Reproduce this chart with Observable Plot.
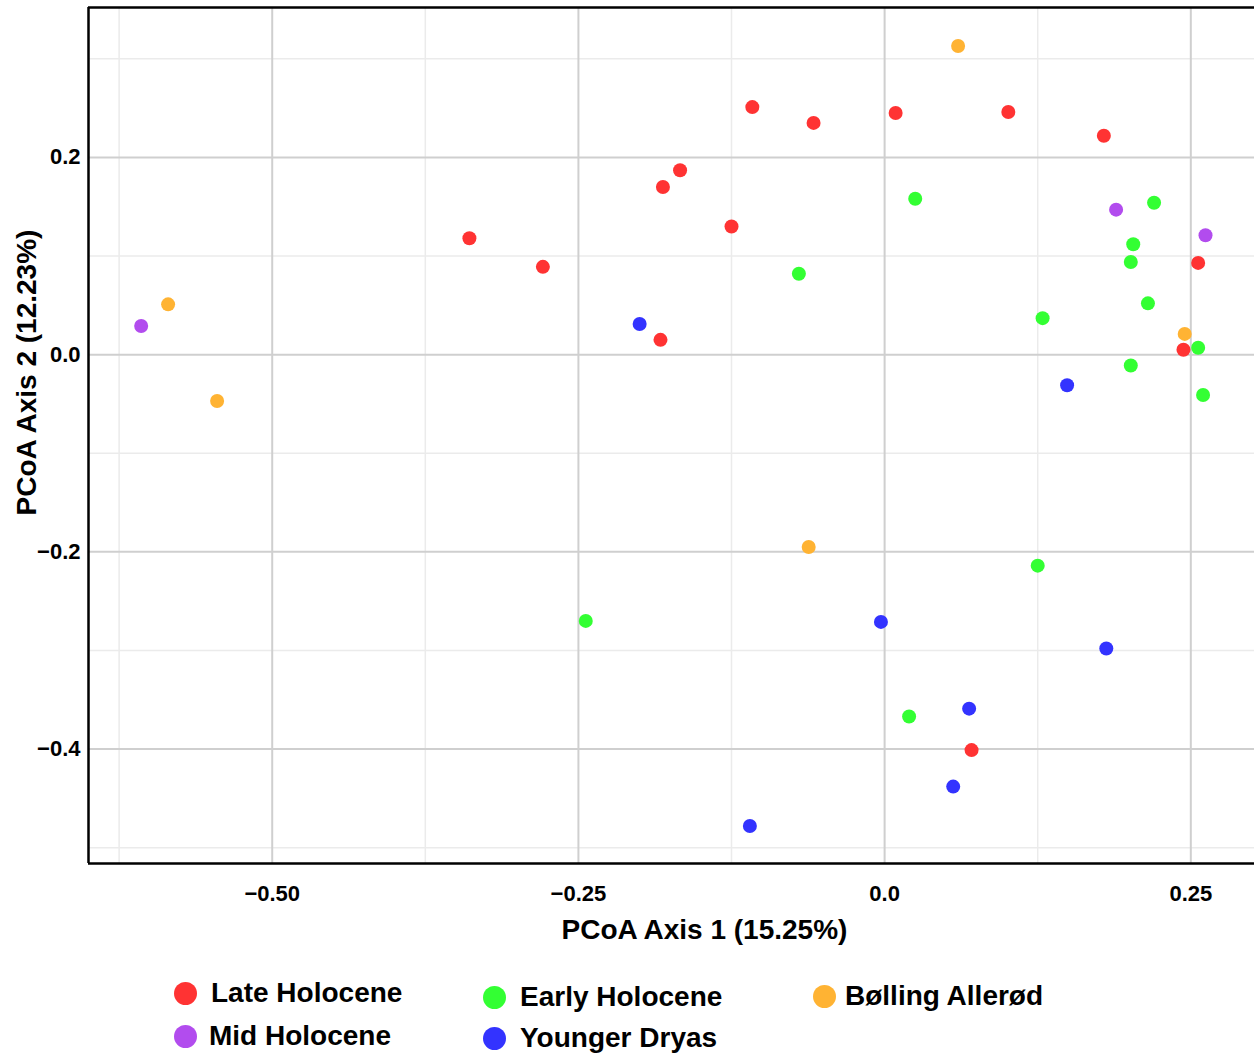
<!DOCTYPE html>
<html>
<head>
<meta charset="utf-8">
<script src="https://cdn.jsdelivr.net/npm/d3@7"></script>
<script src="https://cdn.jsdelivr.net/npm/@observablehq/plot@0.6"></script>
<style>
  html, body { margin: 0; padding: 0; background: #fff; }
  body { width: 1254px; height: 1055px; position: relative; overflow: hidden; font-family: "Liberation Sans", Arial, sans-serif; }
  #chart { position: absolute; left: 0; top: 0; }
  .leg { position: absolute; font-weight: bold; font-size: 28px; color: #000; line-height: 30px; white-space: nowrap; }
  .leg span.dot { position: absolute; width: 23px; height: 23px; border-radius: 50%; }
</style>
</head>
<body>
<div id="chart"></div>
<div id="legend"></div>
<script>
// ---- data (PCoA coordinates) ----
const groups = ["Late Holocene", "Mid Holocene", "Early Holocene", "Younger Dryas", "Bølling Allerød"];
const colors = ["#ff3333", "#b24cee", "#33ff33", "#3333ff", "#ffb333"];

const lateHolocene = [
  [-0.108, 0.251], [-0.058, 0.235], [0.009, 0.245], [0.101, 0.246], [0.179, 0.222],
  [-0.181, 0.170], [-0.167, 0.187], [-0.125, 0.130], [-0.339, 0.118], [-0.279, 0.089],
  [-0.183, 0.015], [0.256, 0.093], [0.244, 0.005], [0.071, -0.401]
];
const midHolocene = [
  [-0.607, 0.029], [0.189, 0.147], [0.262, 0.121]
];
const earlyHolocene = [
  [0.025, 0.158], [-0.070, 0.082], [0.220, 0.154], [0.203, 0.112], [0.201, 0.094],
  [0.215, 0.052], [0.129, 0.037], [0.201, -0.011], [0.256, 0.007], [0.260, -0.041],
  [0.125, -0.214], [-0.244, -0.270], [0.020, -0.367]
];
const youngerDryas = [
  [-0.200, 0.031], [0.149, -0.031], [-0.003, -0.271], [0.181, -0.298],
  [0.069, -0.359], [0.056, -0.438], [-0.110, -0.478]
];
const bollingAllerod = [
  [0.060, 0.313], [-0.585, 0.051], [-0.545, -0.047], [-0.062, -0.195], [0.245, 0.021]
];

const xDomain = [-0.650, 0.302];
const yDomain = [-0.516, 0.352];
const xMajor = [-0.5, -0.25, 0, 0.25];
const xMinor = [-0.625, -0.375, -0.125, 0.125];
const yMajor = [-0.4, -0.2, 0, 0.2];
const yMinor = [-0.5, -0.3, -0.1, 0.1, 0.3];
const xTitle = "PCoA Axis 1 (15.25%)";
const yTitle = "PCoA Axis 2 (12.23%)";

// ---- build table ----
const seriesList = [lateHolocene, midHolocene, earlyHolocene, youngerDryas, bollingAllerod];
const points = [];
seriesList.forEach((arr, i) => arr.forEach(([x, y]) => points.push({x, y, group: groups[i]})));

const font = "Liberation Sans, Arial, sans-serif";
const fmt2 = d3.format(".2f");
const xFormat = d => d === 0 ? "0.0" : fmt2(d);

const chart = Plot.plot({
  width: 1254,
  height: 955,
  marginLeft: 88,
  marginRight: 0,
  marginTop: 7,
  marginBottom: 92,
  style: {fontFamily: font, fontWeight: "bold", color: "#000", background: "#fff"},
  x: {domain: xDomain},
  y: {domain: yDomain},
  color: {domain: groups, range: colors},
  marks: [
    Plot.ruleX(xMinor, {stroke: "#ebebeb", strokeWidth: 1.5}),
    Plot.ruleY(yMinor, {stroke: "#ebebeb", strokeWidth: 1.5}),
    Plot.ruleX(xMajor, {stroke: "#cfcfcf", strokeWidth: 2}),
    Plot.ruleY(yMajor, {stroke: "#cfcfcf", strokeWidth: 2}),
    Plot.ruleX([xDomain[0]], {stroke: "#000", strokeWidth: 2.5}),
    Plot.ruleY([yDomain[0], yDomain[1]], {stroke: "#000", strokeWidth: 2.5}),
    Plot.axisX({ticks: xMajor, tickFormat: xFormat, tickSize: 0, tickPadding: 22, fontSize: 22, label: null}),
    Plot.axisY({ticks: yMajor, tickFormat: d3.format(".1f"), tickSize: 0, tickPadding: 8, fontSize: 22, label: null}),
    Plot.text([xTitle], {frameAnchor: "bottom", textAnchor: "middle", dx: 33, dy: 67, lineAnchor: "middle", fontSize: 28, fontWeight: "bold", fill: "#000"}),
    Plot.text([yTitle], {frameAnchor: "left", textAnchor: "middle", dx: -61, dy: -63, rotate: -90, lineAnchor: "middle", fontSize: 28, fontWeight: "bold", fill: "#000"}),
    Plot.dot(points, {x: "x", y: "y", fill: "group", r: 7, stroke: null})
  ]
});
document.getElementById("chart").appendChild(chart);

// ---- legend ----
const legendPos = [
  {dx: 185, tx: 211, y: 993},
  {dx: 185, tx: 209, y: 1036},
  {dx: 494, tx: 520, y: 997},
  {dx: 494, tx: 520, y: 1038},
  {dx: 824, tx: 845, y: 996}
];
const legend = document.getElementById("legend");
groups.forEach((g, i) => {
  const p = legendPos[i];
  const dot = document.createElement("span");
  dot.className = "leg";
  dot.innerHTML = `<span class="dot" style="left:${p.dx - 11.5}px;top:${p.y - 11.5}px;background:${colors[i]}"></span>`;
  dot.style.left = "0px"; dot.style.top = "0px";
  legend.appendChild(dot);
  const t = document.createElement("div");
  t.className = "leg";
  t.textContent = g;
  t.style.left = p.tx + "px";
  t.style.top = (p.y - 15) + "px";
  legend.appendChild(t);
});
</script>
</body>
</html>
